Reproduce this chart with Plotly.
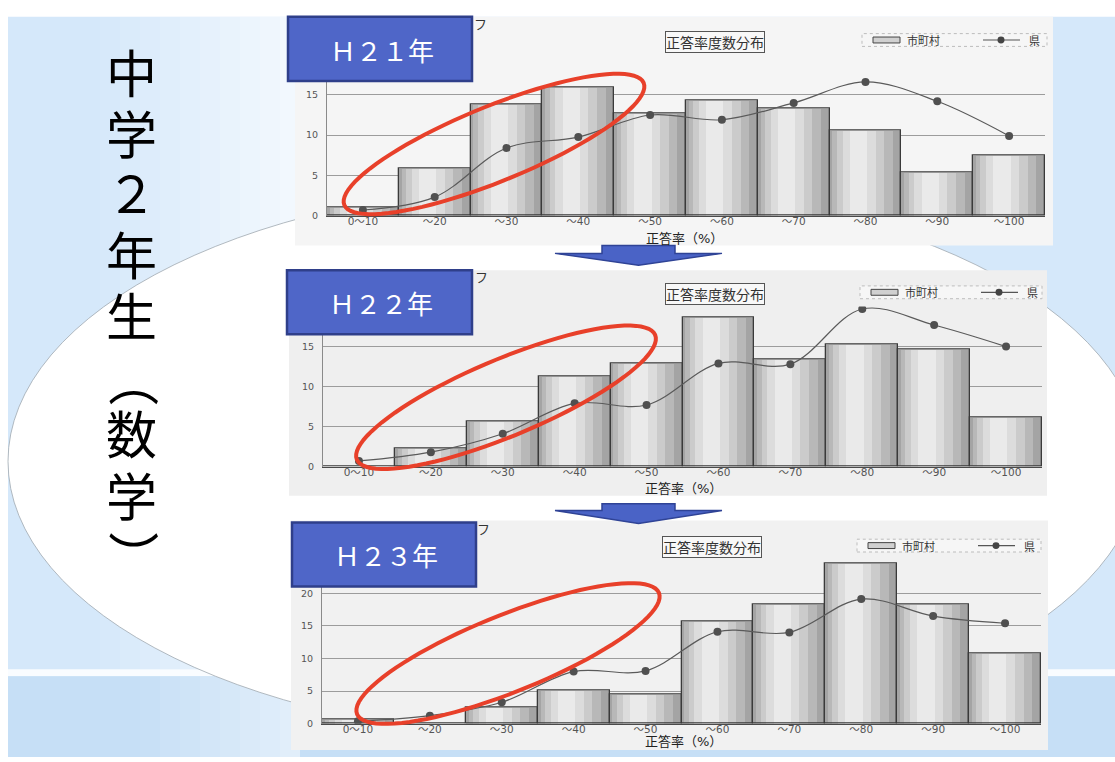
import math
import plotly.graph_objects as go

W, H = 1115, 762

# ---------------- data ----------------
categories = ["0〜10", "〜20", "〜30", "〜40", "〜50", "〜60", "〜70", "〜80", "〜90", "〜100"]
year_labels = ["Ｈ２１年", "Ｈ２２年", "Ｈ２３年"]

city_h21 = [1.0, 5.8, 13.8, 15.9, 12.7, 14.3, 13.3, 10.6, 5.3, 7.4]
pref_h21 = [0.7, 2.3, 8.4, 9.75, 12.5, 11.9, 14.0, 16.6, 14.2, 9.9]

city_h22 = [0.0, 2.26, 5.6, 11.2, 12.9, 18.6, 13.4, 15.2, 14.6, 6.1]
pref_h22 = [0.7, 1.8, 4.1, 7.9, 7.7, 12.9, 12.8, 19.7, 17.7, 15.0]

city_h23 = [0.6, 0.0, 2.56, 5.1, 4.4, 15.7, 18.2, 24.5, 18.2, 10.75]
pref_h23 = [0.4, 1.25, 3.3, 8.0, 8.1, 14.1, 14.0, 19.1, 16.5, 15.4]

y_max = [20, 20, 25]

series_city_name = "市町村"
series_pref_name = "県"
chart_title = "正答率度数分布"
x_title = "正答率（%）"
slide_title_chars = ["中", "学", "２", "年", "生", "（", "数", "学", "）"]

FONT = "Noto Sans CJK JP, Noto Sans, sans-serif"
TIGHT_FONT = "DejaVu Sans, Noto Sans CJK JP, sans-serif"


def fx(x):
    return x / W


def fy(y):
    return 1 - y / H


# ---------------- geometry (pixels) ----------------
plot_boxes = [(327, 1045, 49.3, 212.7), (323, 1042, 305.0, 467.3), (322, 1041, 562.7, 728.3)]
panels = [(295, 1053, 11, 243, "#f5f5f5"), (289, 1047, 268, 497, "#efefef"), (291, 1048, 522, 755, "#f1f1f1")]
label_boxes = [(288, 472, 11, 76), (287, 472, 268, 333), (292, 476, 524, 589)]
label_text_pos = [(382, 44), (381, 301), (386, 557)]
title_centers = [(715, 36.5), (715, 292), (712, 548.5)]
xtitle_pos = [(684, 235.5), (683, 490), (683, 746.5)]
legend_boxes = [(862, 1047, 28, 41), (860, 1042, 284, 297), (857, 1041, 541, 554)]
red_ellipses = [(494, 140, 162, 38, 22.5), (506, 397, 162, 39, 23.0), (508, 657, 163, 39, 22.2)]
arrows = [(638.5, 243, 251, 263), (638.5, 505, 512, 525)]
fu_pos = [(480, 18), (481, 274), (483, 530)]
title_char_y = [71, 132, 192, 255, 317, 380, 437, 500, 558]

fig = go.Figure()

city_all = [city_h21, city_h22, city_h23]
pref_all = [pref_h21, pref_h22, pref_h23]
grad = [(1.00, 0.00, "#a4a4a4"), (0.84, -0.04, "#b8b8b8"), (0.66, -0.07, "#cbcbcb"),
        (0.46, -0.09, "#dcdcdc"), (0.24, -0.10, "#eaeaea")]

for i in range(3):
    sfx = "" if i == 0 else str(i + 1)
    xa, ya = "x" + sfx, "y" + sfx
    for w, c, col in grad:
        fig.add_trace(go.Bar(x=categories, y=city_all[i], width=w, offset=c - w / 2,
                             marker=dict(color=col, line=dict(width=0)),
                             xaxis=xa, yaxis=ya, name=series_city_name,
                             showlegend=False, hoverinfo="skip"))
    fig.add_trace(go.Bar(x=categories, y=city_all[i], width=1.0, offset=-0.5,
                         marker=dict(color="rgba(0,0,0,0)", line=dict(color="#3a3a3a", width=1.3)),
                         xaxis=xa, yaxis=ya, name=series_city_name, showlegend=False))
    fig.add_trace(go.Scatter(x=categories, y=pref_all[i], mode="lines+markers",
                             line=dict(color="#5a5a5a", width=1.2, shape="spline"),
                             marker=dict(size=8, color="#505050"),
                             xaxis=xa, yaxis=ya, name=series_pref_name, showlegend=False))

axes = {}
for i in range(3):
    x0, x1, yt, yb = plot_boxes[i]
    sfx = "" if i == 0 else str(i + 1)
    axes["xaxis" + sfx] = dict(
        domain=[fx(x0), fx(x1)], anchor="y" + sfx, type="category", range=[-0.5, 9.5],
        showgrid=False, showline=True, linecolor="#4a4a4a", linewidth=1, ticks="",
        ticklabelstandoff=-4,
        tickfont=dict(family=TIGHT_FONT, size=10.5, color="#555555"),
        fixedrange=True)
    axes["yaxis" + sfx] = dict(
        domain=[fy(yb), fy(yt)], anchor="x" + sfx, range=[0, y_max[i]], dtick=5, tick0=0,
        showgrid=True, gridcolor="#9c9c9c", gridwidth=1, zeroline=False,
        showline=True, linecolor="#8a8a8a", linewidth=1, ticks="", ticklabelstandoff=6,
        tickfont=dict(family=TIGHT_FONT, size=9.5, color="#555555"), fixedrange=True)

shapes = []


def rect(x0, y0, x1, y1, fill, line_color="rgba(0,0,0,0)", lw=0, layer="below", opacity=1.0, dash="solid"):
    shapes.append(dict(type="rect", xref="paper", yref="paper",
                       x0=fx(x0), x1=fx(x1), y0=fy(y1), y1=fy(y0),
                       fillcolor=fill, opacity=opacity, layer=layer,
                       line=dict(color=line_color, width=lw, dash=dash)))


def path_from(points, fill, line_color, lw, layer="above"):
    d = "M " + " L ".join(f"{fx(x):.5f},{fy(y):.5f}" for x, y in points) + " Z"
    shapes.append(dict(type="path", xref="paper", yref="paper", path=d,
                       fillcolor=fill, layer=layer, line=dict(color=line_color, width=lw)))


# slide background
rect(8, 11, 1115, 762, "#d5e8fa")
for k in range(10):
    x = 100 + k * 20
    rect(x, 11, x + 20, 673, "white", opacity=0.06 + k * 0.07)
rect(8, 673, 1115, 680, "white", opacity=0.85)
rect(8, 680, 1115, 762, "#c6dff6")
for k in range(8):
    x = 140 + k * 20
    rect(x, 680, x + 20, 762, "white", opacity=0.05 + k * 0.06)
# big white ellipse
shapes.append(dict(type="circle", xref="paper", yref="paper",
                   x0=fx(8), x1=fx(1142), y0=fy(744), y1=fy(180),
                   fillcolor="white", layer="below", line=dict(color="#a0a8b0", width=0.8)))
# scanned chart panels
for (x0, x1, y0, y1, col) in panels:
    rect(x0, y0, x1, y1, col)

# red ellipses
for (cx, cy, a, b, ang) in red_ellipses:
    phi = math.radians(ang)
    pts = []
    for k in range(90):
        t = 2 * math.pi * k / 90
        x = cx + a * math.cos(t) * math.cos(phi) + b * math.sin(t) * math.sin(phi)
        y = cy - a * math.cos(t) * math.sin(phi) + b * math.sin(t) * math.cos(phi)
        pts.append((x, y))
    path_from(pts, "rgba(0,0,0,0)", "#e8402a", 4)

# arrows
for (cx, yt, ym, ytip) in arrows:
    pts = [(cx - 36.5, yt), (cx + 36.5, yt), (cx + 36.5, ym), (cx + 83.5, ym), (cx, ytip),
           (cx - 83.5, ym), (cx - 36.5, ym)]
    path_from(pts, "#4a63c6", "#2f4396", 1.5)

# label boxes
for (x0, x1, y0, y1) in label_boxes:
    rect(x0, y0, x1, y1, "#4f66c8", line_color="#2f3f8a", lw=2.5, layer="above")

annotations = []


def text(x, y, s, size, color="#333333", xanchor="center", family=FONT, **kw):
    annotations.append(dict(x=fx(x), y=fy(y), xref="paper", yref="paper", text=s,
                            showarrow=False, xanchor=xanchor, yanchor="middle",
                            font=dict(family=family, size=size, color=color), **kw))


# legends (manual, one per chart)
for (x0, x1, y0, y1) in legend_boxes:
    yc = (y0 + y1) / 2
    rect(x0, y0, x1, y1, "#f6f6f6", line_color="#bdbdbd", lw=1, layer="above", dash="dot")
    rect(x0 + 11, yc - 3, x0 + 38, yc + 3, "#d0d0d0", line_color="#444444", lw=1, layer="above")
    shapes.append(dict(type="line", xref="paper", yref="paper", x0=fx(x0 + 121), x1=fx(x0 + 158),
                       y0=fy(yc), y1=fy(yc), layer="above", line=dict(color="#555555", width=1.2)))
    shapes.append(dict(type="circle", xref="paper", yref="paper", x0=fx(x0 + 135.5), x1=fx(x0 + 142.5),
                       y0=fy(yc + 3.5), y1=fy(yc - 3.5), layer="above", fillcolor="#444444",
                       line=dict(color="#444444", width=0)))
    text(x0 + 43, yc, series_city_name, 11, xanchor="left")
    text(x0 + 165, yc, series_pref_name, 11, xanchor="left")

for (cx, cy) in title_centers:
    text(cx, cy, chart_title, 14, bordercolor="#555555", borderwidth=1, borderpad=0, bgcolor="#f8f8f8")

for (x, y) in xtitle_pos:
    text(x, y, x_title, 13, color="#222222", family=TIGHT_FONT)

for (x, y) in fu_pos:
    text(x, y, "フ", 13, color="#333333")

for (x, y), s in zip(label_text_pos, year_labels):
    text(x, y, s, 26, color="white")

# vertical slide title (one character per line, parentheses turned for vertical writing)
for ch, y in zip(slide_title_chars, title_char_y):
    ang = 90 if ch in ("（", "）") else 0
    text(131, y, ch, 51, color="#000000", family=TIGHT_FONT, textangle=ang)

fig.update_layout(
    width=W, height=H, autosize=False,
    margin=dict(l=0, r=0, t=0, b=0),
    paper_bgcolor="white", plot_bgcolor="rgba(0,0,0,0)",
    barmode="overlay", bargap=0, showlegend=False,
    shapes=shapes, annotations=annotations,
    font=dict(family=FONT),
    **axes,
)

fig.write_html("out.html")
